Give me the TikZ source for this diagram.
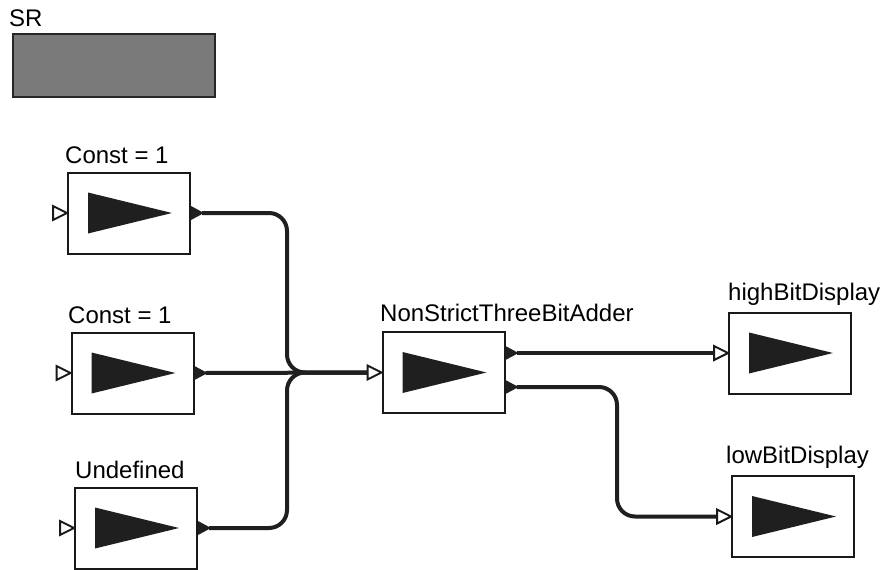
\documentclass[tikz,border=0pt]{standalone}
\usepackage{fontspec}
\setmainfont{Liberation Sans}
\begin{document}
\begin{tikzpicture}[x=1pt,y=-1pt,
  actor/.style={draw=black!90, line width=2pt, minimum width=122pt, minimum height=81pt, inner sep=0pt, fill=white,
    path picture={\fill[black!88] ([xshift=20pt,yshift=20.5pt]path picture bounding box.west) -- ([xshift=20pt,yshift=-20.5pt]path picture bounding box.west) -- ([xshift=104pt]path picture bounding box.west) -- cycle;}},
  lbl/.style={anchor=base west, inner sep=0pt, font=\fontsize{24}{28}\selectfont},
  wire/.style={line width=4pt, black!88, rounded corners=18pt},
  inport/.style={draw=black!90, line width=2pt, fill=white, line join=miter},
  outport/.style={fill=black!88}]
\useasboundingbox (0,0) rectangle (892,570);

% SR
\node[lbl] (srl) at (9,27) {SR};
\node[draw=black!85, line width=2pt, fill=black!52, minimum width=202pt, minimum height=63pt, inner sep=0pt] (sr) at (114,65.5) {};

% boxes
\node[actor] (c1) at (129,213) {};
\node[actor] (c2) at (132.5,373) {};
\node[actor] (un) at (136,528) {};
\node[actor] (add) at (443.5,372.5) {};
\node[actor] (hi) at (790,353) {};
\node[actor] (lo) at (793,516.5) {};

% labels
\node[lbl] (c1l) at (65,163) {Const = 1};
\node[lbl] (c2l) at (68,323) {Const = 1};
\node[lbl] (unl) at (75,478) {Undefined};
\node[lbl] (addl) at (380,321) {NonStrictThreeBitAdder};
\node[lbl] (hil) at (728,300) {highBitDisplay};
\node[lbl] (lol) at (726,463) {lowBitDisplay};

% input ports
\foreach \n in {c1,c2,un,add,hi,lo}{
  \draw[inport] (\n.west) -- ++(-14,-7) -- ++(0,14) -- cycle;
}

% output ports
\coordinate (c1o) at (c1.east);
\coordinate (c2o) at (c2.east);
\coordinate (uno) at (un.east);
\coordinate (ao1) at ([yshift=19.5pt]add.east);
\coordinate (ao2) at ([yshift=-14.5pt]add.east);
\foreach \p in {c1o,c2o,uno,ao1,ao2}{
  \fill[outport] ([yshift=7pt]\p) -- ++(13,7) -- ++(-13,7) -- cycle;
}

% port wire ends
\coordinate (c1p) at ([xshift=11pt]c1o);
\coordinate (c2p) at ([xshift=11pt]c2o);
\coordinate (unp) at ([xshift=11pt]uno);
\coordinate (ao1p) at ([xshift=11pt]ao1);
\coordinate (ao2p) at ([xshift=11pt]ao2);
\coordinate (addi) at ([xshift=-14pt]add.west);
\coordinate (hii) at ([xshift=-14pt]hi.west);
\coordinate (loi) at ([xshift=-14pt]lo.west);
\coordinate (j) at (287,372.5);
\coordinate (bend) at (617,450);

% wires
\draw[wire] (c1p) -| (j) -- (addi);
\draw[wire] (unp) -| (j) -- (addi);
\draw[wire] (c2p) -- (addi);
\draw[wire] (ao1p) -- (hii);
\draw[wire] (ao2p) -| (bend) |- (loi);
\end{tikzpicture}
\end{document}
